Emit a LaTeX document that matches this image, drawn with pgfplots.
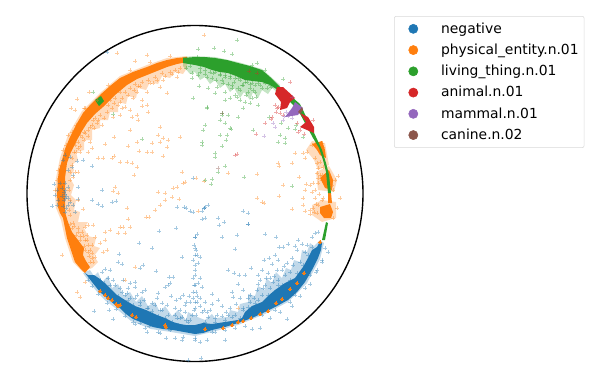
\documentclass[border=0pt]{standalone}
\usepackage{fontspec}
\setmainfont{DejaVu Sans}
\usepackage{pgfplots}
\pgfplotsset{compat=1.18}
\definecolor{tb}{HTML}{1F77B4}
\definecolor{to}{HTML}{FF7F0E}
\definecolor{tg}{HTML}{2CA02C}
\definecolor{tr}{HTML}{D62728}
\definecolor{tp}{HTML}{9467BD}
\definecolor{tn}{HTML}{8C564B}
\pgfplotsset{pts/.style={only marks,mark=+,mark size=1.15pt,forget plot,color=#1,mark options={line width=0.6pt,opacity=0.4}},
 solid pts/.style={only marks,mark=*,mark size=1pt,forget plot,color=#1,mark options={draw=#1,fill=#1,line width=0pt}},
 band/.style={fill=#1,draw=none,forget plot,mark=none},
 haze/.style={fill=#1,fill opacity=0.28,draw=none,forget plot,mark=none},
 lg/.style={only marks,mark=*,mark size=3.3pt,color=#1,legend image code/.code={\path (-11.5pt,0pt) (17.8pt,0pt);\draw[##1] plot coordinates {(0cm,0cm)};}}}
\begin{document}
\begin{tikzpicture}
\begin{axis}[scale only axis,width=425.52pt,height=280.08pt,xmin=0,xmax=591,ymin=0,ymax=389,y dir=reverse,
 axis lines=none,clip=false,
 legend cell align=left,
 legend style={at={(axis cs:394,16)},anchor=north west,draw=black!15,rounded corners=1.5pt,font=\fontsize{10}{12}\selectfont,row sep=2.2pt,inner xsep=2pt,inner ysep=2.5pt}]
% negative scatter
\addplot[haze=tb] coordinates {(83,273)(90,283)(98,293)(106,301)(118,310)(131,321)(151,329)(171,332)(195,336)(212,332)(238,325)(265,314)(288,302)(307,283)(320,259)(324,243)(320,240)(314,246)(310,243)(307,252)(302,250)(300,262)(294,260)(291,270)(286,268)(282,278)(276,272)(272,283)(266,278)(265,290)(258,286)(255,296)(248,294)(248,302)(240,304)(238,312)(230,310)(228,317)(215,318)(212,314)(205,320)(195,316)(188,312)(186,320)(178,310)(172,316)(165,306)(160,312)(155,302)(148,306)(142,296)(136,302)(130,292)(124,296)(118,284)(112,288)(108,276)(102,282)(98,272)(94,276)(90,270)};
\addplot[pts=tb] coordinates {(52,206)(78,199)(73,205)(92,200)(98,204)(102,206)(112,202)(116,201)(75,212)(184,207)(190,211)(193,212)(177,207)(176,228)(159,231)(139,243)(152,248)(119,254)(118,262)(122,264)(140,268)(143,265)(156,271)(169,277)(173,277)(110,270)(105,269)(102,272)(108,278)(113,280)(123,280)(130,283)(135,282)(135,287)(128,288)(142,292)(145,290)(137,295)(127,293)(122,292)(158,293)(157,298)(165,287)(168,285)(170,283)(193,278)(195,285)(183,295)(180,298)(186,302)(190,302)(195,302)(167,305)(162,303)(152,303)(147,308)(140,302)(133,305)(160,310)(180,310)(185,312)(192,315)(175,308)(188,322)(182,317)(177,318)(94,311)(109,310)(113,319)(133,322)(140,323)(149,326)(147,332)(160,333)(166,338)(175,338)(182,340)(188,360)(195,340)(183,337)(193,292)(182,257)(195,255)(193,260)(195,237)
(65,155)(70,157)(63,160)(77,161)(83,160)(92,166)(72,167)(68,170)(73,175)(54,184)(57,190)(65,183)(68,187)(78,187)(65,190)(102,190)(62,188)(60,183)(193,178)(107,52)
(64,192)(65,194)(66,196)(65,198)(64,200)(62,196)(63,206)(66,208)(68,205)(70,202)(68,198)(65,212)(55,195)(58,200)(57,205)
(204,208)(208,205)(202,211)(205,218)(202,219)(218,218)(219,225)(224,222)(243,211)(248,213)(248,224)(248,224)(204,208)(222,237)(237,235)(265,234)(276,237)(235,249)(195,237)(197,234)(195,248)(198,263)(197,255)(200,257)(288,244)(279,247)(283,247)(298,240)(295,246)(297,250)(302,244)(307,245)(312,237)(315,233)(318,232)(328,252)(322,260)(317,270)(275,255)(264,260)(269,258)(278,260)(287,263)(293,265)(282,270)(277,270)(268,273)(270,278)(273,282)(278,280)(262,270)(258,275)(251,268)(245,275)(239,275)(234,273)(228,270)(265,285)(270,288)(263,288)(260,280)(257,290)(250,295)(243,290)(238,284)(232,292)(233,297)(212,294)(218,300)(200,278)(198,283)(202,287)(200,298)(205,302)(197,302)(195,308)(202,312)(207,312)(210,310)(208,317)(217,315)(230,308)(232,317)(243,308)(248,307)(255,303)(252,313)(252,329)(260,328)(287,319)(225,340)(207,340)(200,342)(201,358)(195,338)(215,332)(262,315)(275,310)(290,302)(295,295)(305,288)(310,275)
(262,295)(268,295)(275,292)(282,285)(290,280)(297,273)(303,265)(308,255)(272,298)(258,300)(250,302)(243,310)(235,315)(225,320)(215,322)(205,322)(285,275)(290,272)(300,262)(305,252)(312,247)(278,285)(195,265)(195,275)(194,285)(196,292)(194,310)(196,315)(186,208)(205,207)
(108,290)(115,285)(120,288)(125,295)(128,300)(135,298)(140,305)(148,308)(155,305)(162,310)(168,315)(175,315)(180,318)(186,320)(110,285)(118,296)(124,302)(130,298)(144,300)(152,311)(158,316)(165,318)(172,322)(100,280)(104,283)(190,320)(178,325)(170,330)(158,332)(145,328)(135,324)(125,316)(116,309)(107,303)(98,294)(92,286)(88,280)
(215,318)(222,316)(228,315)(240,318)(248,316)(255,310)(262,308)(270,305)(278,298)(285,293)(292,285)(298,280)(302,272)(310,262)(314,254)(268,300)(272,304)(280,292)(288,284)(212,332)(225,330)(235,328)(245,326)(270,318)(280,312)(292,306)(300,296)(310,284)(316,272)(322,262)(325,248)
(194,245)(196,250)(195,270)(193,298)(197,296)(189,296)(185,305)(176,300)(171,296)(200,306)(204,310)(212,304)(222,306)(226,312)(236,304)(240,298)(248,298)(254,298)(258,284)(266,278)(274,276)(284,266)(292,258)(272,264)};
\addplot[band=tb] coordinates {(85,273)(92,282)(100,292)(108,299)(114,304)(120,308)(126,314)(133,319)(143,323)(153,327)(163,329)(173,330)(184,332)(195,334)(203,333)(212,330)(225,327)(238,323)(252,318)(265,312)(277,306)(288,300)(297,292)(305,282)(312,270)(318,258)(321,250)(322,243)(320,241)(317,247)(312,250)(308,258)(303,267)(295,278)(285,283)(275,290)(268,296)(262,302)(252,306)(245,312)(242,318)(238,320)(225,322)(212,324)(203,323)(195,325)(186,325)(180,324)(173,322)(165,318)(157,315)(146,310)(135,306)(125,300)(117,295)(108,286)(100,279)(94,275)(88,275)};
% physical entity
\addplot[haze=to] coordinates {(187,56)(167,58)(147,65)(120,76)(100,93)(82,111)(68,135)(60,158)(56,178)(55,195)(56,208)(61,220)(65,238)(73,262)(83,272)(92,268)(98,262)(94,256)(100,248)(94,246)(96,238)(88,236)(84,228)(88,222)(78,222)(80,212)(74,210)(76,200)(71,195)(74,185)(70,178)(74,170)(72,165)(78,160)(76,152)(84,150)(84,140)(92,140)(92,130)(100,128)(100,120)(108,120)(110,112)(118,112)(118,102)(126,104)(128,96)(136,98)(138,88)(146,90)(150,82)(158,84)(162,76)(170,78)(175,72)(183,74)(187,68)};
\addplot[haze=to] coordinates {(306,150)(312,141)(325,143)(329,165)(318,170)(314,160)};
\addplot[haze=to] coordinates {(316,172)(329,166)(337,180)(334,192)(318,190)};
\addplot[haze=to] coordinates {(312,205)(322,200)(336,202)(336,218)(322,222)(312,215)};
\addplot[pts=to] coordinates {(117,53)(147,55)(135,61)(77,99)(71,108)(75,110)(89,92)(84,108)(138,86)(137,92)(163,80)(177,77)(153,83)(160,87)(167,93)(147,92)(142,100)(133,98)(120,102)(122,108)(125,107)(130,110)(142,106)(147,105)(148,112)(137,115)(138,120)(132,117)(120,115)(113,117)(102,125)(97,123)(93,120)(90,127)(85,133)(82,137)(78,142)(75,145)(90,142)(92,148)(88,152)(80,152)(105,144)(114,137)(128,146)(137,142)(130,130)(160,127)(158,135)(163,138)(168,140)(180,137)(152,143)(152,152)(160,142)(167,147)(147,152)(163,156)(139,151)(98,158)(103,158)(114,156)(112,158)(120,162)(127,162)(132,163)(137,167)(134,175)(115,187)(113,191)(118,193)(158,192)(165,193)(183,183)(177,187)(182,172)(185,182)(173,188)(73,177)(75,172)(78,172)
(78,200)(83,209)(73,223)(88,225)(85,227)(93,225)(105,232)(110,230)(120,227)(123,227)(130,227)(128,219)(125,233)(118,233)(100,243)(105,240)(95,237)(92,245)(87,235)(107,250)(103,252)(95,257)(92,258)(90,262)(127,208)(155,210)(146,217)(149,217)(160,205)(165,200)(172,197)(179,199)(135,267)(125,280)(77,292)(80,297)(62,255)(85,282)
(75,240)(78,245)(80,250)(85,250)(82,258)(88,252)(80,240)(76,235)(72,228)(70,224)(85,240)(88,245)(90,250)(92,253)(78,232)(83,236)(87,240)(78,228)(82,232)(74,226)(80,236)(84,246)(89,256)(93,262)
(312,145)(315,144)(322,143)(323,147)(307,152)(303,153)(305,158)(315,158)(317,163)(320,162)(318,168)(323,167)(317,173)(320,175)(322,180)(318,183)(338,176)(335,180)(332,185)(333,190)(313,183)(310,185)(306,184)(299,177)(295,153)(292,163)(278,163)(279,166)(257,174)(228,173)(196,178)(204,181)(283,185)(305,190)(312,192)(204,35)
(257,198)(262,202)(264,203)(279,196)(303,198)(292,209)(303,205)(305,211)(310,214)(310,210)(313,208)(318,205)(317,213)(337,208)(333,218)(340,198)(323,198)(315,198)(198,211)(238,308)(322,175)(318,178)(324,182)(315,190)(319,194)(322,200)(316,204)(314,212)
(110,100)(115,98)(120,92)(125,92)(130,88)(135,84)(142,82)(148,80)(155,77)(162,73)(170,72)(175,70)(180,68)(118,105)(112,108)(107,112)(100,115)(95,118)(92,125)(88,130)(84,132)(80,135)(78,148)(74,152)(72,158)(72,165)(70,172)(70,180)(69,190)(70,200)(69,210)(70,215)(60,180)(55,190)(58,170)(63,150)(68,135)(76,125)(85,108)(108,105)(114,103)(122,98)(128,95)(134,90)(140,86)(150,83)(157,80)(165,76)(172,74)(178,72)(104,118)(98,120)(94,128)(88,136)(84,140)(80,146)(76,152)(97,100)(92,108)(80,122)(72,132)(66,145)(61,165)(57,180)(108,85)(130,70)(150,62)(170,56)};
\addplot[band=to] coordinates {(187,57)(177,58)(167,60)(157,63)(147,67)(133,72)(120,78)(110,86)(100,95)(91,104)(83,113)(76,125)(70,137)(65,149)(62,160)(59,170)(58,178)(57,195)(58,207)(60,213)(63,218)(65,228)(67,238)(71,250)(75,262)(80,268)(85,273)(90,267)(86,261)(83,255)(84,248)(78,240)(72,232)(68,222)(65,212)(65,195)(65,178)(67,163)(71,152)(77,140)(82,131)(87,123)(95,114)(103,107)(115,95)(127,85)(137,79)(147,75)(157,71)(167,67)(177,64)(187,62)};
\addplot[band=to] coordinates {(320,207)(330,204)(333,212)(331,218)(324,218)(320,213)};
\addplot[band=to] coordinates {(328,193)(331,193)(332,203)(328,203)};
\addplot[band=to] coordinates {(320,178)(329,170)(333,180)(332,190)(325,188)};
\addplot[band=to] coordinates {(312,144)(322,141)(325,150)(326,158)(320,155)(317,150)};
\addplot[solid pts=to] coordinates {(100,291)(105,295)(108,298)(112,300)(116,304)(118,306)(120,305)(132,315)(136,317)(165,325)(166,327)(205,329)(223,328)(232,325)(238,322)(243,321)(251,318)(260,314)(268,311)(276,303)(282,299)(297,283)(290,289)(304,273)(320,242)};
% living thing
\addplot[haze=tg] coordinates {(183,57)(195,56)(215,57)(238,62)(262,69)(280,85)(278,93)(272,88)(268,94)(262,90)(258,98)(253,92)(250,100)(244,92)(240,98)(234,88)(230,92)(225,84)(220,88)(215,80)(210,84)(205,77)(200,80)(195,72)(190,74)(183,66)};
\addplot[pts=tg] coordinates {(237,40)(214,48)(224,51)(232,54)(198,49)(197,57)(257,63)(252,65)(265,70)(283,79)(200,72)(207,77)(213,73)(220,75)(212,78)(225,77)(230,78)(238,78)(232,85)(223,83)(217,87)(208,88)(199,86)(215,93)(225,92)(232,88)(237,97)(238,88)(243,85)(248,92)(253,90)(262,88)(267,88)(271,87)(258,83)(252,83)(247,82)(240,100)(245,102)(250,103)(258,105)(235,95)(230,98)(225,100)(243,108)(238,117)(228,115)(222,115)(220,120)(225,123)(230,128)(231,129)(205,125)(203,130)(220,135)(227,135)(226,140)(222,146)(202,142)(202,145)(215,153)(215,157)(225,166)(218,172)(212,179)(211,184)(205,180)(244,177)(253,130)(269,117)(281,123)(288,128)(296,125)(295,129)(280,135)(285,138)(278,142)(285,143)(303,137)(207,107)(207,108)(222,113)(292,186)(192,73)(192,78)(193,98)(113,114)(142,139)(93,92)
(200,68)(205,70)(210,72)(215,72)(220,74)(225,75)(230,76)(235,78)(240,80)(245,82)(250,84)(255,85)(260,85)(218,70)(228,71)(238,73)(248,76)(258,80)(265,83)(270,85)(242,85)(250,88)(255,92)(246,78)(222,80)(234,82)(240,90)(246,95)(252,98)(256,97)(228,84)(216,80)(205,74)(198,75)(190,66)(186,68)};
\addplot[band=tg] coordinates {(183,58)(195,57)(205,57)(215,58)(227,60)(238,63)(250,66)(262,70)(270,77)(278,85)(300,104)(316,137)(322,150)(326,163)(329,175)(331,193)(328,193)(326,172)(323,160)(319,148)(313,138)(298,110)(278,90)(270,85)(262,82)(253,81)(245,80)(236,76)(228,73)(220,72)(212,70)(204,67)(195,65)(183,63)};
\addplot[band=tg] coordinates {(95,100)(101,96)(104,101)(99,106)};
\addplot[band=tg] coordinates {(326,222)(328,223)(325,240)(322,240)};
% animal
\addplot[pts=tr] coordinates {(290,82)(249,71)(257,73)(278,107)(277,108)(272,117)(271,119)(265,123)(256,134)(297,123)(235,155)(237,154)(313,120)(275,105)(283,115)(276,112)(280,113)(298,132)(300,130)(304,134)};
\addplot[band=tr] coordinates {(277,87)(283,87)(295,98)(290,102)(287,108)(280,110)(281,102)(275,94)};
\addplot[band=tr] coordinates {(300,113)(308,117)(314,127)(314,133)(300,127)(306,122)};
% mammal
\addplot[pts=tp] coordinates {(283,120)(273,123)(275,127)(264,136)(292,97)(288,116)(292,118)(286,112)(284,116)};
\addplot[band=tp] coordinates {(295,102)(303,108)(298,115)(285,117)(292,108)};
% canine
\addplot[pts=tn] coordinates {(218,168)(222,113)};
\addplot[band=tn] coordinates {(298,112)(302,107)(303,110)(300,114)};
\draw[black,line width=1pt] (axis cs:195,193.5) circle [radius=168];
\addlegendimage{lg=tb}\addlegendentry{negative}
\addlegendimage{lg=to}\addlegendentry{physical\_entity.n.01}
\addlegendimage{lg=tg}\addlegendentry{living\_thing.n.01}
\addlegendimage{lg=tr}\addlegendentry{animal.n.01}
\addlegendimage{lg=tp}\addlegendentry{mammal.n.01}
\addlegendimage{lg=tn}\addlegendentry{canine.n.02}
\path (axis cs:0,0) (axis cs:591,389);
\end{axis}
\end{tikzpicture}
\end{document}
